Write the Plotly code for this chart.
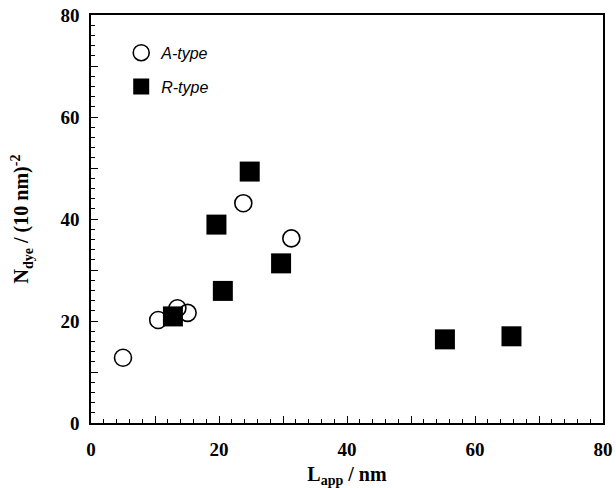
import plotly.graph_objects as go

# A-type (open circles)
a_x = [5.0, 10.5, 13.5, 15.1, 23.8, 31.3]
a_y = [12.8, 20.2, 22.5, 21.6, 43.1, 36.2]

# R-type (filled squares)
r_x = [12.8, 19.6, 24.8, 20.6, 29.7, 55.3, 65.7]
r_y = [20.9, 38.9, 49.3, 25.9, 31.3, 16.4, 17.0]

tick_vals = [0, 10, 20, 30, 40, 50, 60, 70, 80]
tick_text = ["0", "", "20", "", "40", "", "60", "", "80"]

serif = "Liberation Serif, Times New Roman, serif"
sans = "Liberation Sans, Arial, Helvetica, sans-serif"

fig = go.Figure()
fig.add_trace(go.Scatter(
    x=a_x, y=a_y, mode="markers", name="A-type", legendgroup="a",
    marker=dict(symbol="circle-open", size=17, color="black", line=dict(width=1.6, color="black")),
))
fig.add_trace(go.Scatter(
    x=r_x, y=r_y, mode="markers", name="R-type", legendgroup="r",
    marker=dict(symbol="square", size=20, color="black", line=dict(width=0)),
))

axis_common = dict(
    range=[0, 80], tickmode="array", tickvals=tick_vals, ticktext=tick_text,
    ticks="inside", ticklen=7, tickwidth=1.3, tickcolor="black",
    showline=True, linecolor="black", linewidth=1.6, mirror=True,
    showgrid=False, zeroline=False, automargin=False,
    tickfont=dict(family=serif, size=19, color="black", weight="bold"),
    minor=dict(dtick=2, ticks="inside", ticklen=4, tickwidth=1, tickcolor="black", showgrid=False),
)

fig.update_layout(
    width=616, height=488,
    margin=dict(l=91, r=13, t=15, b=65),
    paper_bgcolor="white", plot_bgcolor="white",
    showlegend=True,
    legend=dict(
        x=0.059, y=0.949, xanchor="left", yanchor="top",
        font=dict(family=sans, size=16, color="black", style="italic"),
        bgcolor="rgba(0,0,0,0)", traceorder="grouped", tracegroupgap=10,
        itemwidth=30,
    ),
    xaxis=dict(
        **axis_common,
        ticklabelstandoff=8,
        title=dict(text="<b>L<sub>app</sub> / nm</b>", font=dict(family=serif, size=20, color="black"), standoff=15),
    ),
    yaxis=dict(
        **axis_common,
        ticklabelstandoff=6,
        title=dict(text="<b>N<sub>dye</sub> / (10 nm)<sup>-2</sup></b>", font=dict(family=serif, size=20, color="black"), standoff=26),
    ),
)

fig.write_html(
    "out.html",
    config={"displayModeBar": False},
    post_script="document.body.style.margin='0';document.body.style.overflow='hidden';",
)
